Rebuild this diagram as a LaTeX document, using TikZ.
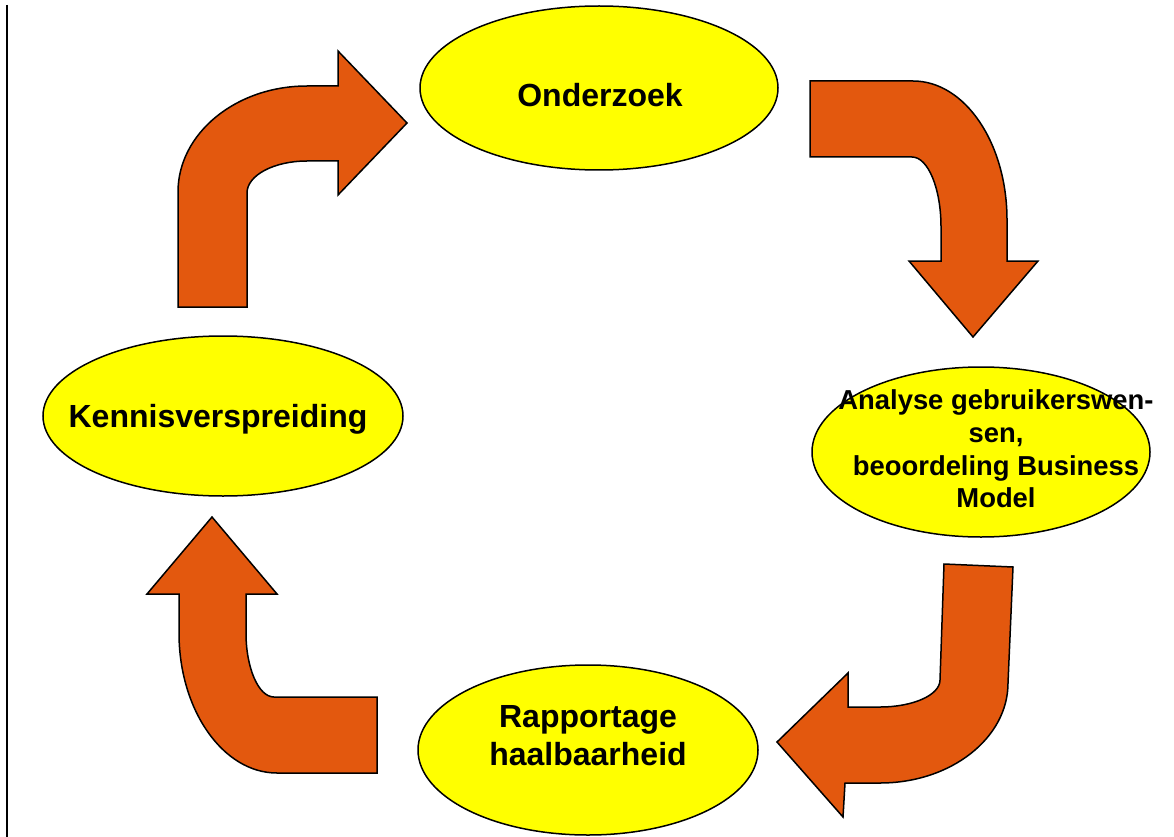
\documentclass[tikz,border=0pt]{standalone}
\usepackage{fontspec}
\setmainfont{Liberation Sans}
\usetikzlibrary{shapes.geometric}
\definecolor{arroworange}{RGB}{227,88,14}
\definecolor{ellyellow}{RGB}{255,255,0}
\tikzset{
  bluearrow/.style={fill=arroworange, draw=black, line width=1.5pt, line join=miter},
  stage/.style={ellipse, draw=black, fill=ellyellow, line width=1.5pt, inner sep=0pt},
  stagetext/.style={font=\bfseries\fontsize{32}{38}\selectfont, align=center, inner sep=0pt},
  smalltext/.style={font=\bfseries\fontsize{27.4}{32.7}\selectfont, align=center, inner sep=0pt}
}
\begin{document}
\begin{tikzpicture}[x=1pt, y=-1pt]
\useasboundingbox (0,0) rectangle (1174,837);
\fill[white] (0,0) rectangle (1174,837);

% left rule
\draw[line width=2pt] (7,5) -- (7,837);

% ellipses
\node[stage, minimum width=358pt, minimum height=164pt] (onderzoek) at (599,88) {};
\node[stage, minimum width=338pt, minimum height=170pt] (analyse) at (981,452) {};
\node[stage, minimum width=340pt, minimum height=170pt] (rapportage) at (588,750) {};
\node[stage, minimum width=360pt, minimum height=160pt] (kennis) at (223,416) {};

% texts
\node[stagetext, anchor=base] (t1) at (600,107) {Onderzoek};
\node[stagetext, anchor=base] (t4) at (218,427) {Kennisverspreiding};
\node[stagetext] (t3) at (588,735.5) {Rapportage\\haalbaarheid};
\node[smalltext] (t2) at (996,449) {Analyse gebruikerswen-\\sen,\\beoordeling Business\\Model};

% arrow 1: up then right
\draw[bluearrow] (178,307) -- (178,192)
  .. controls (178,133.5) and (235.8,86) .. (307,86)
  -- (338,86) -- (338,51) -- (407,123) -- (338,195) -- (338,161) -- (307,161)
  .. controls (273.9,161) and (247,175.3) .. (247,193)
  -- (247,307) -- cycle;

% arrow 2: right then down
\draw[bluearrow] (810,81) -- (913,81)
  .. controls (965,81) and (1007,143.2) .. (1007,220)
  -- (1007,261) -- (1038,261) -- (973,337) -- (909,261) -- (941,261) -- (941,227)
  .. controls (941,188.3) and (928,157) .. (912,157)
  -- (810,157) -- cycle;

% arrow 3: down then left
\draw[bluearrow] (944,564) -- (1013,567) -- (1008,683)
  .. controls (1008,738.2) and (950.7,783) .. (880,783)
  -- (845,783) -- (843,817) -- (777,742) -- (848,673) -- (848,707) -- (880,707)
  .. controls (913,707) and (940,695) .. (940,680)
  -- cycle;

% arrow 4: left then up
\draw[bluearrow] (377,697) -- (377,773) -- (277,773)
  .. controls (223,773) and (179,710) .. (179,633)
  -- (179,594) -- (147,594) -- (212,517) -- (277,594) -- (246,594) -- (246,633)
  .. controls (246,668) and (258.5,697) .. (274,697)
  -- cycle;
\end{tikzpicture}
\end{document}
